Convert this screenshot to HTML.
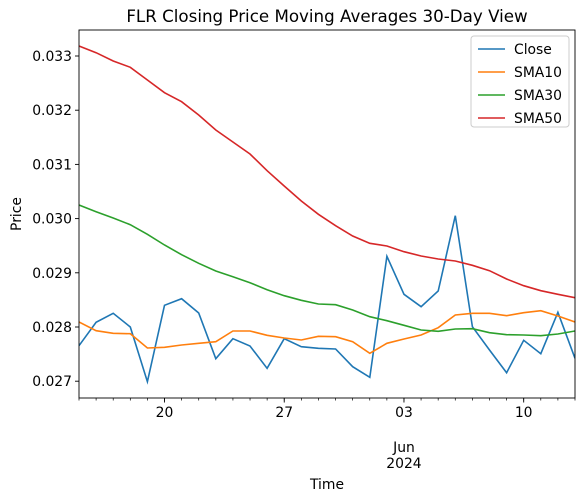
<!DOCTYPE html>
<html><head><meta charset="utf-8"><style>
body{margin:0;background:#fff}
svg{display:block;font-family:"DejaVu Sans","Liberation Sans",sans-serif}
</style></head><body>
<svg id="chart" width="585" height="501">
<text x="327" y="22" font-size="16.7" text-anchor="middle">FLR Closing Price Moving Averages 30-Day View</text>
<g id="plot"></g>
<text x="327" y="489" font-size="13.9" text-anchor="middle">Time</text>
<text transform="translate(21,214) rotate(-90)" font-size="13.9" text-anchor="middle">Price</text>
</svg>
<script>
const startDate = [2024, 4, 15];
const closeVals = [0.027655,0.028087,0.028253,0.028000,0.026991,0.028400,0.028522,0.028258,0.027415,0.027784,0.027650,0.027238,0.027784,0.027636,0.027607,0.027594,0.027268,0.027072,0.029304,0.028603,0.028375,0.028664,0.030053,0.028005,0.027576,0.027157,0.027755,0.027507,0.028271,0.027422];
const sma10Vals = [0.028092,0.027932,0.027884,0.027876,0.027613,0.027626,0.027668,0.027699,0.027729,0.027926,0.027926,0.027847,0.027797,0.027760,0.027828,0.027821,0.027729,0.027515,0.027699,0.027779,0.027852,0.027987,0.028221,0.028253,0.028253,0.028209,0.028264,0.028301,0.028203,0.028092];
const sma30Vals = [0.030251,0.030127,0.030011,0.029887,0.029710,0.029513,0.029334,0.029175,0.029033,0.028928,0.028817,0.028688,0.028577,0.028493,0.028424,0.028411,0.028314,0.028190,0.028116,0.028031,0.027945,0.027920,0.027963,0.027969,0.027895,0.027858,0.027852,0.027839,0.027870,0.027926];
const sma50Vals = [0.033185,0.033061,0.032908,0.032792,0.032557,0.032323,0.032157,0.031911,0.031635,0.031413,0.031192,0.030884,0.030601,0.030325,0.030079,0.029869,0.029679,0.029544,0.029495,0.029389,0.029310,0.029255,0.029218,0.029138,0.029039,0.028886,0.028762,0.028670,0.028603,0.028541];
const yTicks = [0.027,0.028,0.029,0.030,0.031,0.032,0.033];
const yTickLabels = ["0.027","0.028","0.029","0.030","0.031","0.032","0.033"];
const xMajorIdx = [5,12,19,26];
const xMajorLabels = ["20","27","03","10"];

const L=79,R=575,T=30,B=398;
const n=closeVals.length;
const xs=i=>L+i*(R-L)/(n-1);
const ys=v=>56+(0.033-v)/0.001*54.2;
const NS="http://www.w3.org/2000/svg";
const g=document.getElementById('plot');
function mk(tag,attrs,parent){const e=document.createElementNS(NS,tag);for(const k in attrs)e.setAttribute(k,attrs[k]);(parent||g).appendChild(e);return e;}

const series=[["Close",closeVals,"#1f77b4"],["SMA10",sma10Vals,"#ff7f0e"],["SMA30",sma30Vals,"#2ca02c"],["SMA50",sma50Vals,"#d62728"]];
const clip=mk('clipPath',{id:'clp'});mk('rect',{x:L,y:T,width:R-L,height:B-T},clip);
series.forEach(([name,vals,col])=>{
  const p=mk('polyline',{points:vals.map((v,i)=>xs(i).toFixed(1)+','+ys(v).toFixed(1)).join(' '),fill:'none',stroke:col,'stroke-width':1.6,'clip-path':'url(#clp)'});
  
  
});
const frame=mk('rect',{x:L,y:T,width:R-L,height:B-T,fill:'none',stroke:'#000','stroke-width':0.9});



yTicks.forEach((v,k)=>{
  const y=ys(v);
  mk('line',{x1:L-4,x2:L,y1:y,y2:y,stroke:'#000','stroke-width':0.9});
  const t=mk('text',{x:L-7,y:y+5,'font-size':13.9,'text-anchor':'end'});
  t.textContent=yTickLabels[k];
  
  
});
for(let i=0;i<n;i++){mk('line',{x1:xs(i),x2:xs(i),y1:B,y2:B+2.5,stroke:'#000','stroke-width':0.7});}
xMajorIdx.forEach((i,k)=>{
  const x=xs(i);
  mk('line',{x1:x,x2:x,y1:B,y2:B+4.5,stroke:'#000','stroke-width':0.9});
  const t=mk('text',{x:x,y:B+19,'font-size':13.9,'text-anchor':'middle'});
  t.textContent=xMajorLabels[k];
  
  
});
const jx=xs(xMajorIdx[2]);
const t1=mk('text',{x:jx,y:452,'font-size':13.9,'text-anchor':'middle'});t1.textContent='Jun';


const t2=mk('text',{x:jx,y:468,'font-size':13.9,'text-anchor':'middle'});t2.textContent='2024';



const lg=mk('g',{});


mk('rect',{x:471,y:36,width:98,height:91,rx:3,fill:'#fff',stroke:'#ccc','stroke-width':1},lg);
series.forEach(([name,vals,col],k)=>{
  const y=49+k*23;
  const e=mk('g',{},lg);
  
  
  mk('line',{x1:478,x2:505,y1:y,y2:y,stroke:col,'stroke-width':1.6},e);
  const t=mk('text',{x:514,y:y+5,'font-size':13.9},e);t.textContent=name;
});
</script>
</body></html>
